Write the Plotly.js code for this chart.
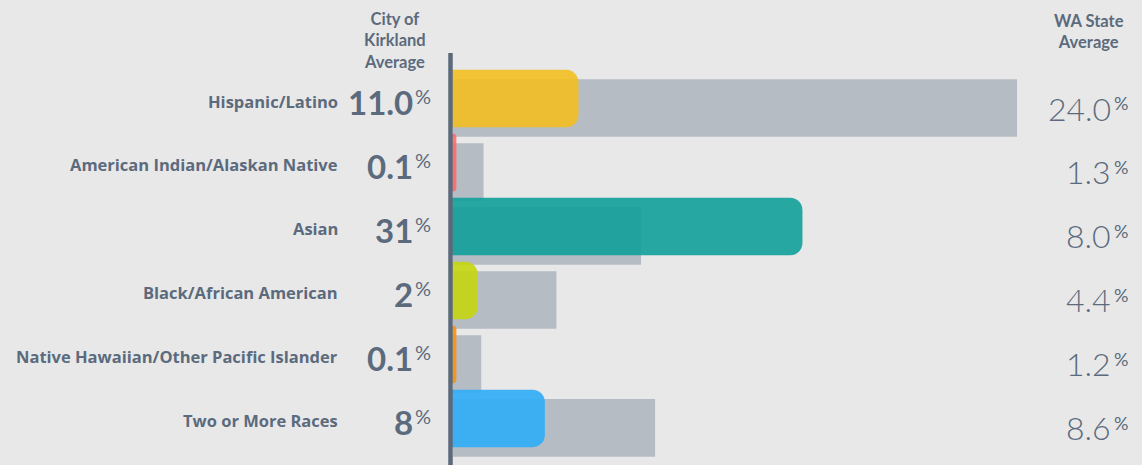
<!DOCTYPE html>
<html>
<head>
<meta charset="utf-8">
<script src="https://cdn.plot.ly/plotly-3.0.1.min.js"></script>
<style>
  html, body { margin: 0; padding: 0; background: #e8e8e8; }
  #chart { width: 1142px; height: 465px; }
</style>
</head>
<body>
<div id="chart"></div>
<script>
const categories = [
  "Hispanic/Latino",
  "American Indian/Alaskan Native",
  "Asian",
  "Black/African American",
  "Native Hawaiian/Other Pacific Islander",
  "Two or More Races"
];
const kirklandValues = [11.0, 0.1, 31, 2, 0.1, 8];
const kirklandLabels = ["11.0", "0.1", "31", "2", "0.1", "8"];
const waValues = [24.0, 1.3, 8.0, 4.4, 1.2, 8.6];
const waLabels = ["24.0", "1.3", "8.0", "4.4", "1.2", "8.6"];
const kirklandColors = ["#f4bf22", "#ff6b6b", "#13a09a", "#c6d610", "#f8920f", "#2fadf7"];
const headerKirkland = "City of<br>Kirkland<br>Average";
const headerWA = "WA State<br>Average";

const textColor = "#5b6b7d";
const fam = "Lato, 'Open Sans', sans-serif";
const labelFam = "'Open Sans', Lato, sans-serif";

// pixel geometry of the scales
const leftPad = 4;          // px of plot area left of the zero line (under the axis rule)
const plotLen = 565;        // px from zero to the right edge
const waPxPerUnit = 23.5;
const kPxPerUnit = 11.2;

const traces = [
  {
    type: "bar", orientation: "h",
    y: categories, x: waValues,
    xaxis: "x", yaxis: "y",
    width: 0.9,
    marker: { color: "#b5bcc4" },
    hoverinfo: "skip"
  },
  {
    type: "bar", orientation: "h",
    y: categories, x: kirklandValues,
    xaxis: "x2", yaxis: "y",
    width: 0.828, offset: -0.562,
    opacity: 0.9,
    marker: { color: kirklandColors, cornerradius: 10, line: { color: kirklandColors, width: 4.5 } },
    hoverinfo: "skip"
  }
];

const annotations = [];
categories.forEach((c, i) => {
  annotations.push({
    xref: "paper", yref: "y", x: 0, y: c, xshift: -109, yshift: 7,
    xanchor: "right", yanchor: "middle", showarrow: false,
    text: "<b>" + c + "</b>", font: { family: labelFam, size: 16.5, color: textColor }
  });
  annotations.push({
    xref: "paper", yref: "y", x: 0, y: c, xshift: -34, yshift: 6,
    xanchor: "right", yanchor: "middle", showarrow: false,
    text: "<b>" + kirklandLabels[i] + "</b>", font: { family: fam, size: 33, color: textColor, weight: 900 }
  });
  annotations.push({
    xref: "paper", yref: "y", x: 0, y: c, xshift: -36, yshift: 12,
    xanchor: "left", yanchor: "middle", showarrow: false,
    text: "%", font: { family: fam, size: 20, color: textColor }
  });
  annotations.push({
    xref: "paper", yref: "y", x: 1, y: c, xshift: 95, yshift: 0,
    xanchor: "right", yanchor: "middle", showarrow: false,
    text: waLabels[i], font: { family: fam, size: 32, color: textColor, weight: 300 }
  });
  annotations.push({
    xref: "paper", yref: "y", x: 1, y: c, xshift: 94, yshift: 5,
    xanchor: "left", yanchor: "middle", showarrow: false,
    text: "%", font: { family: fam, size: 18, color: textColor }
  });
});
annotations.push({
  xref: "paper", yref: "paper", x: 0, y: 1, xshift: -54, yshift: 13,
  xanchor: "center", yanchor: "middle", showarrow: false, align: "center",
  text: "<b>" + headerKirkland + "</b>", font: { family: fam, size: 16.5, color: textColor }
});
annotations.push({
  xref: "paper", yref: "paper", x: 1, y: 1, xshift: 71, yshift: 22,
  xanchor: "center", yanchor: "middle", showarrow: false, align: "center",
  text: "<b>" + headerWA + "</b>", font: { family: fam, size: 16.5, color: textColor }
});

const layout = {
  width: 1142, height: 465,
  margin: { l: 453 - leftPad, r: 124, t: 53, b: 0, pad: 0 },
  paper_bgcolor: "#e8e8e8", plot_bgcolor: "#e8e8e8",
  barmode: "overlay",
  showlegend: false,
  xaxis: { range: [-leftPad / waPxPerUnit, plotLen / waPxPerUnit], visible: false, fixedrange: true },
  xaxis2: { range: [-leftPad / kPxPerUnit, plotLen / kPxPerUnit], overlaying: "x", visible: false, fixedrange: true },
  yaxis: {
    type: "category", categoryorder: "array", categoryarray: categories,
    range: [5.58, -0.86], showticklabels: false, showgrid: false,
    zeroline: false, showline: false, ticks: "", fixedrange: true
  },
  shapes: [{
    type: "line", xref: "paper", xsizemode: "pixel", xanchor: 0, x0: 1.5, x1: 1.5,
    yref: "paper", y0: 0, y1: 1, line: { color: "#5b6a7a", width: 4.5 }, layer: "above"
  }],
  annotations: annotations
};

Plotly.newPlot("chart", traces, layout, { displayModeBar: false, staticPlot: true });
</script>
</body>
</html>
